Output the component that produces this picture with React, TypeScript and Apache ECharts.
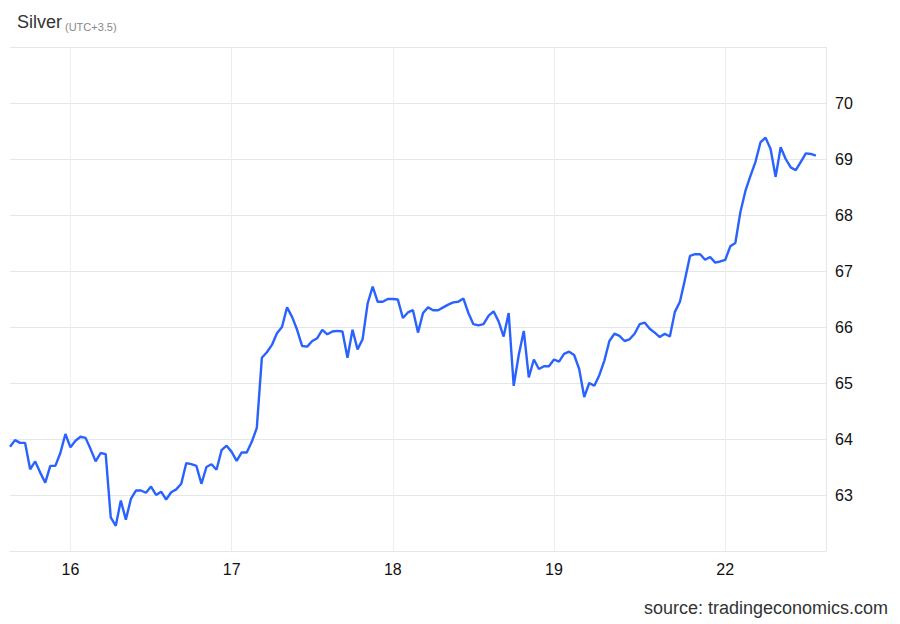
import React, { useEffect, useRef } from "react";
import * as echarts from "echarts";

// Day labels and the sample indices where they fall
const dayLabels = ["16", "17", "18", "19", "22"];
const dayIndex = [12, 44, 76, 108, 142];
const totalSlots = 163;

// Silver price samples
const prices = [
  63.86, 63.98, 63.93, 63.93, 63.46, 63.6, 63.4, 63.22, 63.52, 63.52,
  63.75, 64.09, 63.85, 63.97, 64.04, 64.02, 63.82, 63.6, 63.75, 63.73,
  62.6, 62.45, 62.9, 62.56, 62.93, 63.08, 63.08, 63.04, 63.15, 63.0,
  63.06, 62.92, 63.05, 63.1, 63.2, 63.57, 63.55, 63.52, 63.2, 63.5,
  63.55, 63.45, 63.8, 63.88, 63.77, 63.61, 63.76, 63.76, 63.95, 64.2,
  65.45, 65.55, 65.68, 65.89, 66.0, 66.35, 66.18, 65.95, 65.66, 65.65,
  65.75, 65.8, 65.95, 65.87, 65.92, 65.93, 65.92, 65.45, 65.95, 65.6,
  65.78, 66.42, 66.72, 66.45, 66.45, 66.5, 66.5, 66.49, 66.16, 66.26,
  66.3, 65.9, 66.25, 66.35, 66.3, 66.3, 66.35, 66.4, 66.44, 66.45,
  66.51, 66.25, 66.05, 66.03, 66.05, 66.2, 66.28, 66.1, 65.83, 66.25,
  64.95, 65.5, 65.93, 65.1, 65.42, 65.25, 65.3, 65.3, 65.42, 65.38,
  65.52, 65.56, 65.5, 65.25, 64.75, 65.0, 64.95, 65.14, 65.4, 65.75,
  65.88, 65.84, 65.75, 65.78, 65.88, 66.05, 66.08, 65.97, 65.9, 65.82,
  65.88, 65.83, 66.27, 66.45, 66.85, 67.27, 67.3, 67.3, 67.2, 67.25,
  67.15, 67.17, 67.2, 67.44, 67.5, 68.05, 68.43, 68.7, 68.95, 69.3,
  69.38, 69.18, 68.68, 69.21, 69.0, 68.85, 68.8, 68.95, 69.1, 69.09,
  69.06,
];

const yMin = 62;
const yMax = 71;

export default function App() {
  const ref = useRef<HTMLDivElement>(null);

  useEffect(() => {
    document.body.style.margin = "0";
    if (!ref.current) return;
    const chart = echarts.init(ref.current, null, { renderer: "svg" });

    const categories: string[] = [];
    for (let i = 0; i < totalSlots; i++) {
      const k = dayIndex.indexOf(i);
      categories.push(k >= 0 ? dayLabels[k] : "s" + i);
    }
    const seriesData: (number | null)[] = [];
    for (let i = 0; i < totalSlots; i++) {
      seriesData.push(i < prices.length ? prices[i] : null);
    }
    const showAt = (idx: number) => dayIndex.indexOf(idx) >= 0;
    const font = "Liberation Sans, Arial, sans-serif";

    chart.setOption({
      animation: false,
      backgroundColor: "#ffffff",
      textStyle: { fontFamily: font },
      grid: { left: 10, right: 74, top: 47, bottom: 73, containLabel: false },
      graphic: [
        {
          type: "text",
          left: 17,
          top: 13,
          style: { text: "Silver", fontSize: 18, fill: "#333333", fontFamily: font },
        },
        {
          type: "text",
          left: 65,
          top: 21,
          style: { text: "(UTC+3.5)", fontSize: 11, fill: "#888888", fontFamily: font },
        },
        {
          type: "text",
          right: 12,
          top: 599,
          style: {
            text: "source: tradingeconomics.com",
            fontSize: 18,
            fill: "#333333",
            fontFamily: font,
          },
        },
      ],
      xAxis: {
        type: "category",
        data: categories,
        boundaryGap: false,
        axisLine: { show: true, lineStyle: { color: "#e3e6ea", width: 1 } },
        axisTick: { show: false },
        axisLabel: {
          interval: (idx: number) => showAt(idx),
          color: "#111111",
          fontSize: 16,
          margin: 10,
          formatter: (v: string) => (dayLabels.indexOf(v) >= 0 ? v : ""),
        },
        splitLine: {
          show: true,
          interval: (idx: number) => showAt(idx),
          lineStyle: { color: "#eceff2", width: 1 },
        },
      },
      yAxis: {
        type: "value",
        position: "right",
        min: yMin,
        max: yMax,
        interval: 1,
        axisLine: { show: true, lineStyle: { color: "#e3e6ea", width: 1 } },
        axisTick: { show: false },
        axisLabel: {
          color: "#111111",
          fontSize: 16,
          margin: 9,
          showMinLabel: false,
          showMaxLabel: false,
        },
        splitLine: { show: true, lineStyle: { color: "#e3e6ea", width: 1 } },
      },
      series: [
        {
          type: "line",
          data: seriesData,
          showSymbol: false,
          symbol: "none",
          connectNulls: false,
          lineStyle: { color: "#2962ff", width: 2.4 },
          itemStyle: { color: "#2962ff" },
        },
      ],
    });

    return () => chart.dispose();
  }, []);

  return <div ref={ref} style={{ width: 900, height: 624 }} />;
}
